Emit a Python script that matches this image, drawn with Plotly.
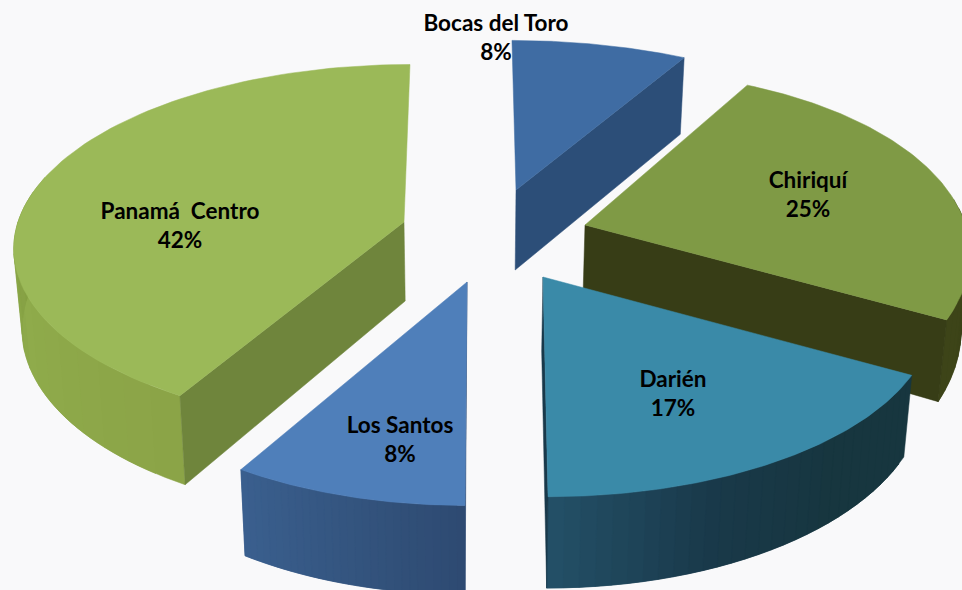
import numpy as np
import plotly.graph_objects as go

# Data
categories = ["Bocas del Toro", "Chiriquí", "Darién", "Los Santos", "Panamá  Centro"]
values = [1, 3, 2, 1, 5]

# Styles and geometry of the drawing (one entry per slice)
top_colors = ["#3f6ca3", "#7f9a45", "#3a8aa8", "#4f7fba", "#9bb958"]
edge_colors = ["#2c4e78", "#373d16", "#19394a", "#2e4a72", "#6f853c"]
wall_stops = [
    ["#2c4e78", "#2c4e78"],
    ["#373d16", "#3d4418"],
    ["#17363f", "#17363f", "#19394a", "#234f66"],
    ["#2e4a72", "#34557f", "#3a5f8e"],
    ["#8ba447", "#8fab4b", "#7f9a3f", "#7f9a3f", "#7f9a3f"],
]
apex_x = [516, 585, 543, 467, 404]
apex_y = [190, 225, 277, 282, 222]
radius_x = [400, 378, 383, 375, 386]
radius_y = [178, 184, 178, 181, 178]
persp = [0.19, 0.19, 0.19, 0.19, 0.13]
depth = [80, 74, 74, 72, 79]
depth_persp = [0.05, 0.19, 0.19, 0.19, 0.13]
shear_x = [-0.027, 0.0, -0.023, 0.009, 0.038]
skew_y = [0.0, 0.0187, 0.0, 0.0, 0.0]
label_x = [496, 808, 673, 400, 180]
label_y = [[25, 54], [182, 211], [381, 410], [427, 456], [213, 242]]
draw_order = [0, 1, 4, 3, 2]

BG = "#f9f9fa"
total = sum(values)
edges = np.cumsum([0] + values) / total * 2 * np.pi


def hex_rgb(c):
    return np.array([int(c[i:i + 2], 16) for i in (1, 3, 5)], float)


def mix(stops, t):
    pos = t * (len(stops) - 1)
    i = min(int(pos), len(stops) - 2)
    col = hex_rgb(stops[i]) * (1 - (pos - i)) + hex_rgb(stops[i + 1]) * (pos - i)
    return "rgb({:.0f},{:.0f},{:.0f})".format(*col)


def project(s, ang, rad=1.0, low=False):
    """Perspective projection of a point of slice s on the disc, top or bottom side."""
    u, v = rad * np.sin(ang), rad * np.cos(ang)
    w = 1 + persp[s] * v
    dx = radius_x[s] * u / w
    dy = radius_y[s] * v / w
    x = apex_x[s] + dx + shear_x[s] * dy
    y = apex_y[s] - dy - skew_y[s] * dx
    if low:
        y = y + depth[s] / (1 + depth_persp[s] * v)
        x = x + (470 - x) * 0.018
    return x, y


def poly(fig, xs, ys, color):
    fig.add_trace(go.Scatter(
        x=list(xs) + [xs[0]], y=list(ys) + [ys[0]], mode="lines", fill="toself",
        fillcolor=color, line=dict(color=color, width=0.5),
        hoverinfo="skip", showlegend=False,
    ))


fig = go.Figure()

for s in draw_order:
    a0, a1 = edges[s], edges[s + 1]
    mid = (a0 + a1) / 2
    # outer wall, as strips that overlap the next one and carry the shading
    n = 30
    angs = np.linspace(a0, a1, n + 1)
    for i in range(n):
        if np.cos(angs[i]) > 0.1 and np.cos(angs[i + 1]) > 0.1:
            continue
        j = min(i + 2, n)
        pts = [project(s, a) for a in np.linspace(angs[i], angs[j], 4)]
        low = [project(s, a, 1, True) for a in np.linspace(angs[j], angs[i], 4)]
        ring = pts + low
        poly(fig, [p[0] for p in ring], [p[1] for p in ring], mix(wall_stops[s], i / (n - 1)))
    # the radial wall that faces the viewer
    ang = a1 if mid < np.pi else a0
    p0, p1 = project(s, ang, 0), project(s, ang)
    p2, p3 = project(s, ang, 1, True), project(s, ang, 0, True)
    poly(fig, [p0[0], p1[0], p2[0], p3[0]], [p0[1], p1[1], p2[1], p3[1]], edge_colors[s])
    # top face
    arc = np.linspace(a0, a1, 90)
    pts = [project(s, a) for a in arc]
    ap = project(s, a0, 0)
    poly(fig, [ap[0]] + [p[0] for p in pts], [ap[1]] + [p[1] for p in pts], top_colors[s])

# labels
for s, name in enumerate(categories):
    pct = f"{round(values[s] / total * 100)}%"
    fig.add_trace(go.Scatter(
        x=[label_x[s], label_x[s]], y=label_y[s], mode="text", text=[name, pct],
        textposition="middle center",
        textfont=dict(family="Lato", size=22.5, color="#000000", weight="bold"),
        hoverinfo="skip", showlegend=False,
    ))

fig.update_layout(
    width=962, height=590, autosize=False,
    margin=dict(l=0, r=0, t=0, b=0),
    paper_bgcolor=BG, plot_bgcolor=BG, showlegend=False,
    xaxis=dict(range=[0, 962], visible=False, fixedrange=True),
    yaxis=dict(range=[590, 0], visible=False, fixedrange=True),
)
fig.write_html("out.html", config={"displayModeBar": False},
               post_script="document.body.style.margin='0';document.body.style.background='%s';" % BG)
